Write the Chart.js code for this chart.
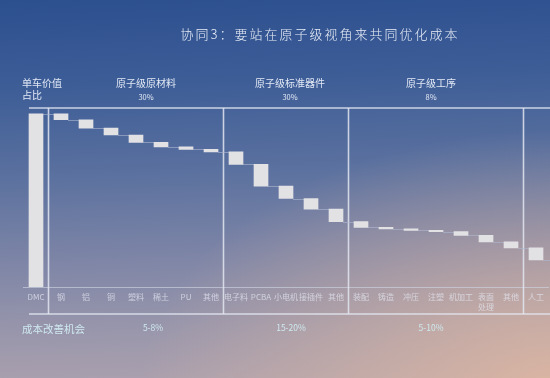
<!DOCTYPE html>
<html><head><meta charset="utf-8">
<script src="https://cdn.jsdelivr.net/npm/chart.js@4.4.0/dist/chart.umd.min.js"></script>
<style>
html,body{margin:0;padding:0;width:550px;height:378px;overflow:hidden;}
body{
  background:
    radial-gradient(ellipse 420px 260px at 560px 390px, rgba(226,184,160,0.85) 0%, rgba(226,184,160,0) 100%),
    linear-gradient(178deg, #2c4f8e 0%, #3d5d97 22%, #5b719f 45%, #7c84a6 65%, #9a97ac 85%, #aea2ae 100%);
}
canvas{display:block;}
</style></head><body>
<canvas id="c" width="550" height="378"></canvas>
<script>
// ---- data ----
const categories = ['DMC','钢','铝','铜','塑料','稀土','PU','其他','电子料','PCBA','小电机','接插件','其他','装配','铸造','冲压','注塑','机加工',['表面','处理'],'其他','人工'];
const totalValue = 100; // DMC bar
const decreases = [null,3.4,4.8,4.0,4.3,2.6,1.4,1.4,7.3,12.5,7.2,6.1,7.2,3.4,0.8,0.9,0.7,2.2,3.7,3.5,7.0];
const groupStarts = [1,8,13,20];
const groupNames = ['原子级原材料','原子级标准器件','原子级工序'];
const groupShares = ['30%','30%','8%'];
const groupOpportunities = ['5-8%','15-20%','5-10%'];
const titleText = '协同3：要站在原子级视角来共同优化成本';
const leftHeader = ['单车价值','占比'];
const bottomHeader = '成本改善机会';

// floating bars built from the values
const bars = [];
let level = totalValue;
decreases.forEach((d,i)=>{
  if(i===0){ bars.push([0,totalValue]); }
  else { bars.push([level-d, level]); level -= d; }
});

const FONT = '"Noto Sans CJK SC","Noto Sans",sans-serif';
const groupLabelX = [146, 290, 431];
const oppLabelX = [153, 291, 431];

const decor = {
  id:'decor',
  beforeDatasetsDraw(chart){
    const {ctx, chartArea:a, scales:{x,y}} = chart;
    ctx.save();
    ctx.strokeStyle='rgba(226,230,240,0.85)';
    ctx.lineWidth=1.6;
    ctx.beginPath(); ctx.moveTo(29,a.top); ctx.lineTo(550,a.top); ctx.stroke();
    ctx.beginPath(); ctx.moveTo(29,314); ctx.lineTo(550,314); ctx.stroke();
    groupStarts.forEach(g=>{
      const sx = (x.getPixelForValue(g-1)+x.getPixelForValue(g))/2;
      ctx.beginPath(); ctx.moveTo(sx,a.top); ctx.lineTo(sx,314); ctx.stroke();
    });
    ctx.strokeStyle='rgba(175,185,210,0.6)';
    ctx.lineWidth=1;
    const meta = chart.getDatasetMeta(0);
    bars.forEach((b,i)=>{
      const lv = i===0 ? b[1] : b[0];
      const yy = Math.round(y.getPixelForValue(lv))+0.5;
      const el = meta.data[i];
      const x0 = el.x + el.width/2;
      const x1 = i < bars.length-1 ? meta.data[i+1].x - meta.data[i+1].width/2 : 550;
      ctx.beginPath(); ctx.moveTo(x0,yy); ctx.lineTo(x1,yy); ctx.stroke();
    });
    ctx.restore();
  },
  afterDraw(chart){
    const {ctx} = chart;
    ctx.save();
    ctx.textBaseline='middle';
    ctx.fillStyle='#e9eef7';
    ctx.font='300 13px '+FONT;
    ctx.letterSpacing='2px';
    ctx.textAlign='center';
    ctx.fillText(titleText, 320, 34);
    ctx.letterSpacing='0px';
    ctx.fillStyle='#e2e9f5';
    ctx.font='10px '+FONT;
    ctx.textAlign='left';
    ctx.fillText(leftHeader[0], 22, 83);
    ctx.fillText(leftHeader[1], 22, 95);
    ctx.textAlign='center';
    groupNames.forEach((n,i)=>{
      ctx.font='10px '+FONT;
      ctx.fillStyle='#e2e9f5';
      ctx.fillText(n, groupLabelX[i], 83);
      ctx.font='7.5px '+FONT;
      ctx.fillText(groupShares[i], groupLabelX[i], 97);
    });
    ctx.fillStyle='#cfe9ef';
    ctx.font='10.5px '+FONT;
    ctx.textAlign='left';
    ctx.fillText(bottomHeader, 22, 329);
    ctx.font='8.5px '+FONT;
    ctx.textAlign='center';
    groupOpportunities.forEach((t,i)=>ctx.fillText(t, oppLabelX[i], 328));
    ctx.restore();
  }
};

new Chart(document.getElementById('c').getContext('2d'), {
  type:'bar',
  data:{labels:categories, datasets:[{
    data:bars, backgroundColor:'#e2e2e5', borderWidth:0, barThickness:14
  }]},
  options:{
    responsive:false, animation:false,
    layout:{padding:{left:23.5,right:1.5,top:108,bottom:61}},
    plugins:{legend:{display:false}, tooltip:{enabled:false}},
    scales:{
      x:{
        grid:{display:false, drawTicks:false},
        border:{display:true, color:'rgba(205,210,225,0.65)', width:1},
        ticks:{color:'rgba(226,230,240,0.75)', font:{size:8, family:FONT, lineHeight:1.25}, padding:5, maxRotation:0, minRotation:0, autoSkip:false}
      },
      y:{display:false, min:0, max:103.4}
    }
  },
  plugins:[decor]
});
</script>
</body></html>
